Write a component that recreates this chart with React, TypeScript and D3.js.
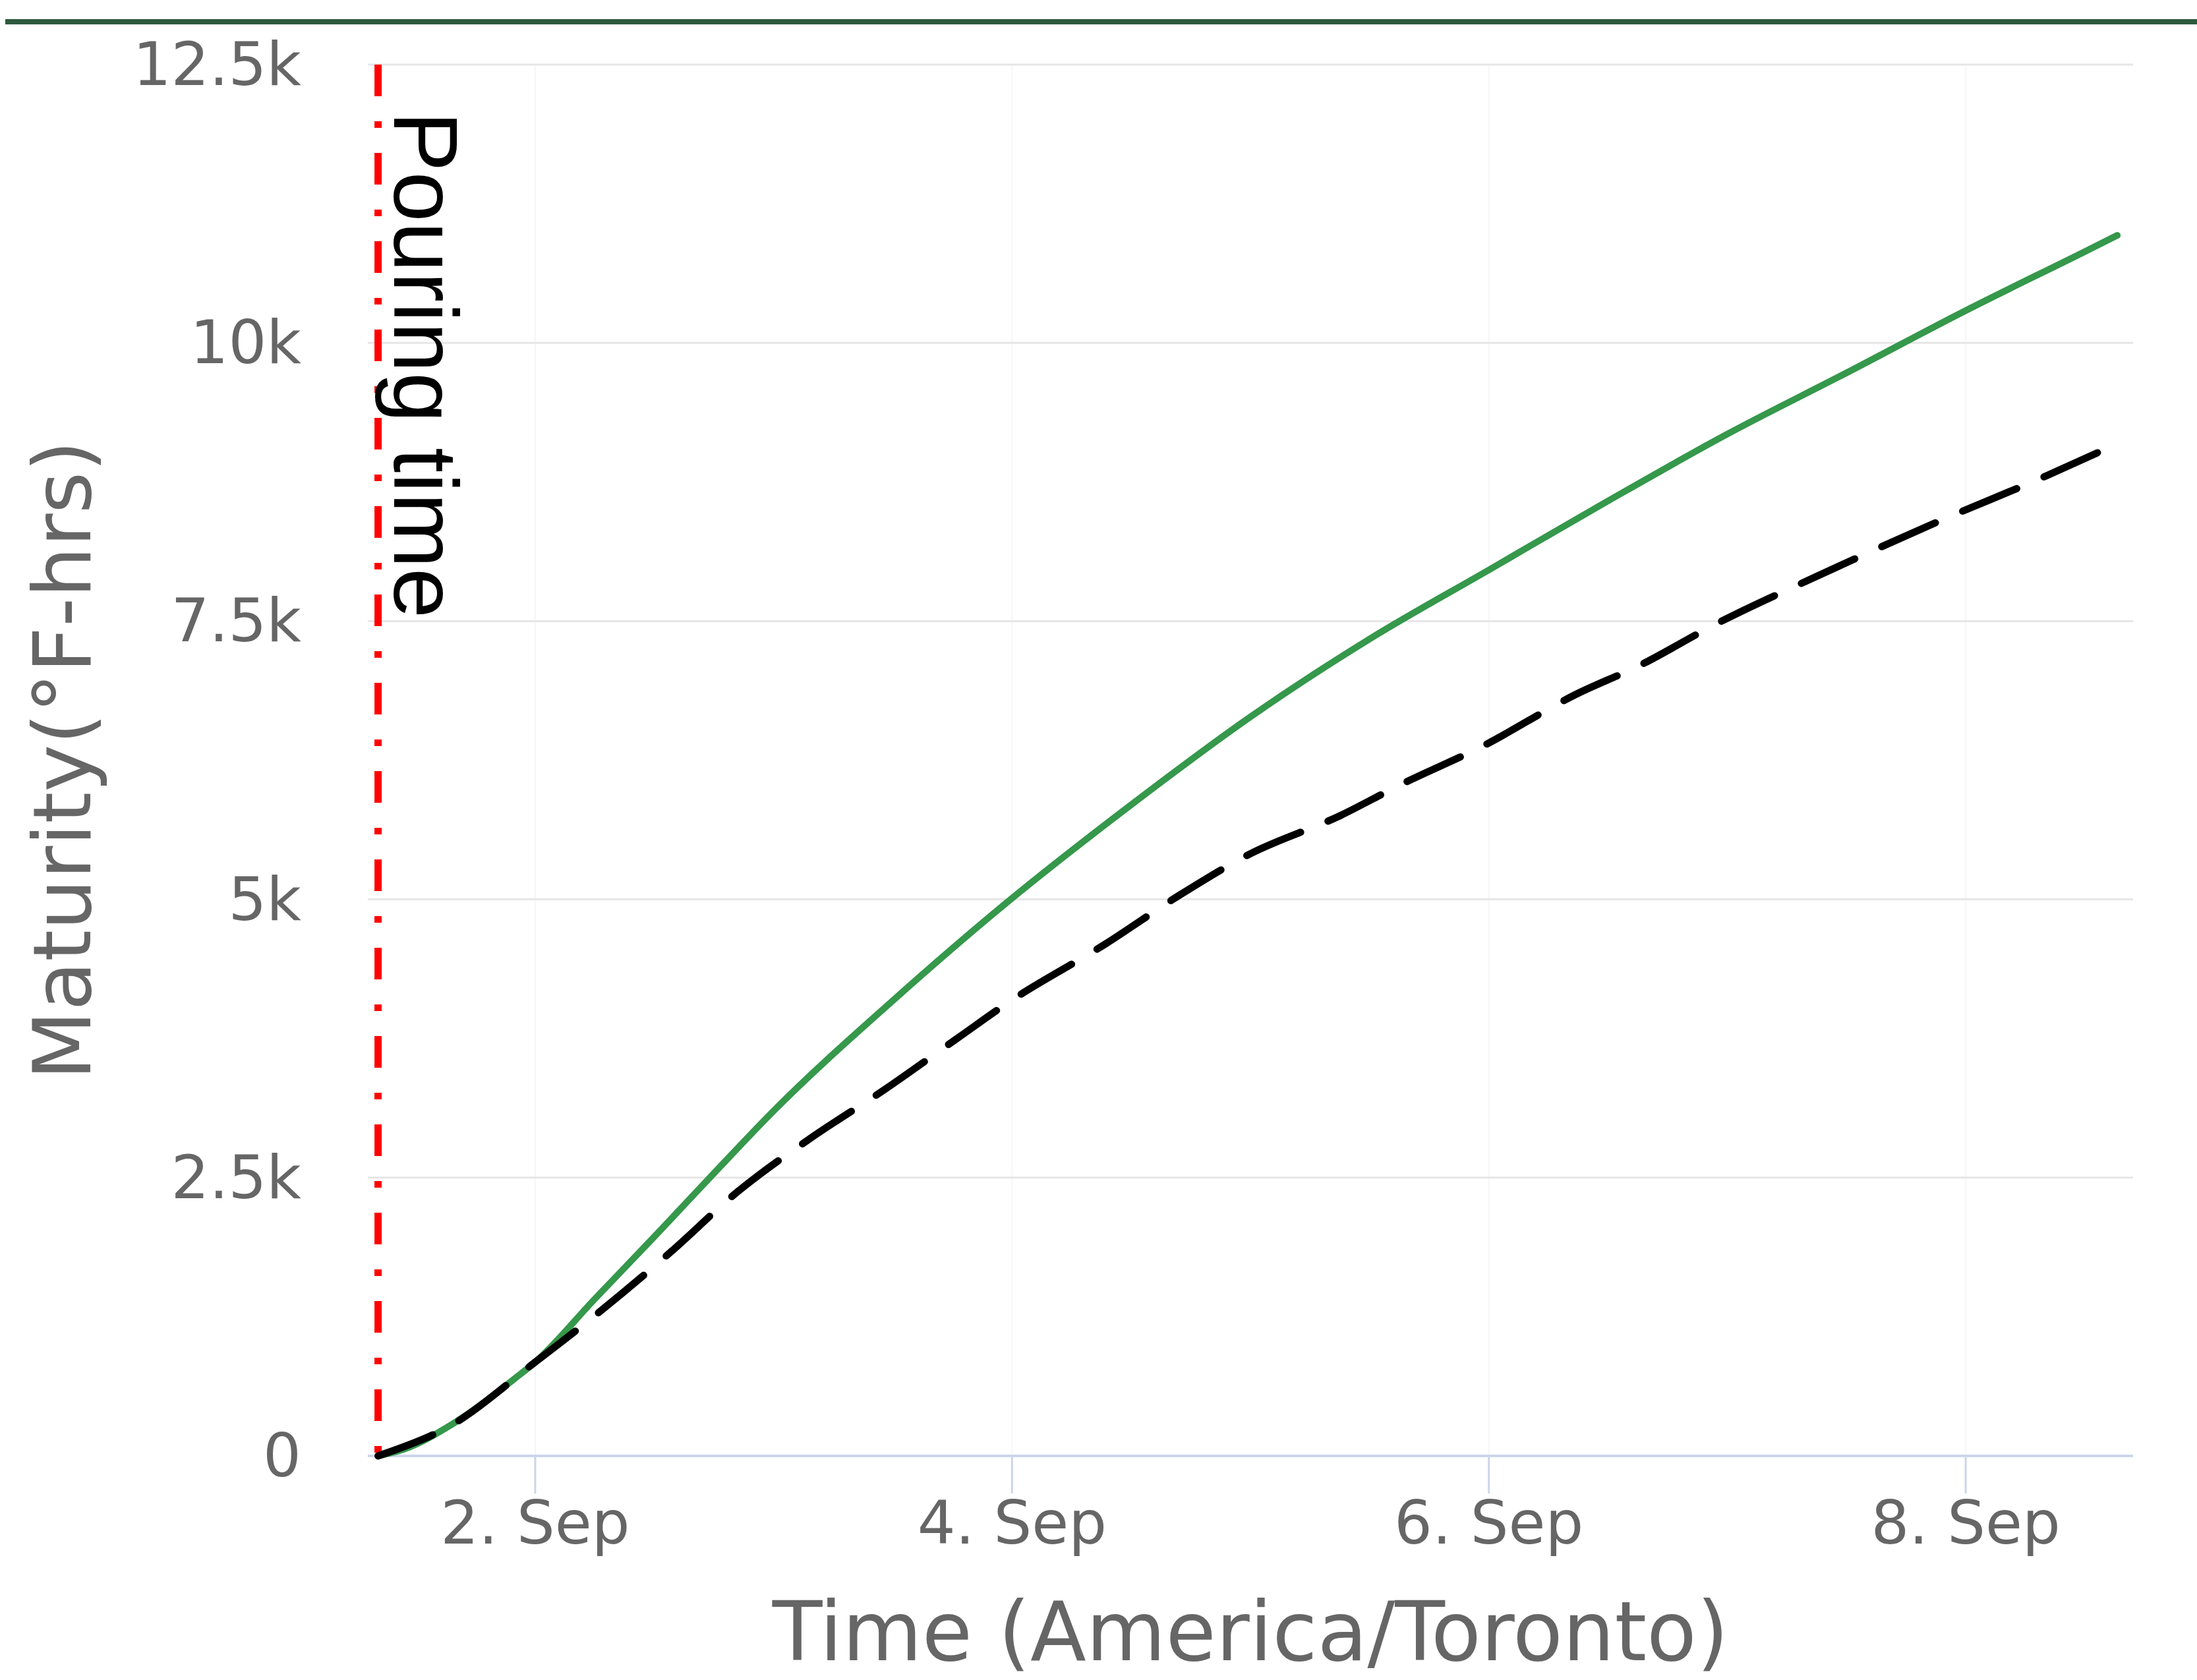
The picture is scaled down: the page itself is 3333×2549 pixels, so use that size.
import React from "react";
import * as d3 from "d3";

// ---- data ----
const greenTimes = [
  "2024-09-01T08:11", "2024-09-01T10:48", "2024-09-01T15:38", "2024-09-01T22:05",
  "2024-09-02T00:00", "2024-09-02T06:00", "2024-09-02T12:00", "2024-09-02T18:00",
  "2024-09-03T00:00", "2024-09-03T12:00", "2024-09-04T00:00", "2024-09-04T12:00",
  "2024-09-05T00:00", "2024-09-05T12:00", "2024-09-06T00:00", "2024-09-06T12:00",
  "2024-09-07T00:00", "2024-09-07T12:00", "2024-09-08T00:00", "2024-09-08T12:00",
  "2024-09-08T15:16",
];
const greenValues = [
  0, 60, 284, 705, 843, 1410, 1970, 2540, 3100, 4090, 5010, 5850, 6640, 7340, 7960,
  8580, 9180, 9730, 10290, 10820, 10966,
];

const blackTimes = [
  "2024-09-01T08:11", "2024-09-01T15:38", "2024-09-02T00:00", "2024-09-02T05:11",
  "2024-09-02T13:37", "2024-09-02T20:23", "2024-09-03T03:37", "2024-09-03T11:11",
  "2024-09-03T18:26", "2024-09-03T23:56", "2024-09-04T09:26", "2024-09-04T16:59",
  "2024-09-04T23:46", "2024-09-05T09:07", "2024-09-05T15:03", "2024-09-05T23:31",
  "2024-09-06T08:50", "2024-09-06T15:09", "2024-09-06T22:58", "2024-09-07T09:04",
  "2024-09-07T21:17", "2024-09-08T08:07", "2024-09-08T15:16",
];
const blackValues = [
  0, 280, 843, 1202, 1830, 2374, 2848, 3292, 3748, 4092, 4601, 5045, 5400, 5756, 6028,
  6383, 6845, 7100, 7479, 7905, 8396, 8805, 9095,
];

const pouringTime = "2024-09-01T08:11";
const pouringLabel = "Pouring time";

const xDomain = ["2024-09-01T07:09", "2024-09-08T16:51"];
const xTickDates = ["2024-09-02", "2024-09-04", "2024-09-06", "2024-09-08"];
const yTicks = [0, 2500, 5000, 7500, 10000, 12500];
const yTickLabels = ["0", "2.5k", "5k", "7.5k", "10k", "12.5k"];
const yMax = 12500;

const xTitle = "Time (America/Toronto)";
const yTitle = "Maturity(°F-hrs)";

// ---- layout ----
const W = 3333;
const H = 2549;
const plotLeft = 558;
const plotRight = 3236;
const plotTop = 98;
const plotBottom = 2209;

const parse = (s: string) => new Date(s);

export default function App() {
  const x = d3
    .scaleTime()
    .domain([parse(xDomain[0]), parse(xDomain[1])])
    .range([plotLeft, plotRight]);
  const y = d3.scaleLinear().domain([0, yMax]).range([plotBottom, plotTop]);

  const line = d3
    .line<[Date, number]>()
    .x((d) => x(d[0]))
    .y((d) => y(d[1]))
    .curve(d3.curveMonotoneX);

  const greenData: [Date, number][] = greenTimes.map((t, i) => [parse(t), greenValues[i]]);
  const blackData: [Date, number][] = blackTimes.map((t, i) => [parse(t), blackValues[i]]);

  const fmt = d3.timeFormat("%-d. %b");
  const labelFont = "'DejaVu Sans', Verdana, sans-serif";
  const px = x(parse(pouringTime));

  return (
    <svg
      width={W}
      height={H}
      style={{ position: "absolute", left: 0, top: 0, background: "#fff" }}
    >
      <rect x={0} y={0} width={W} height={H} fill="#ffffff" />
      <rect x={8} y={29} width={W - 8} height={8} fill="#2d5a3e" />

      {/* vertical faint gridlines */}
      {xTickDates.map((t) => (
        <line
          key={"vg" + t}
          x1={x(parse(t))}
          x2={x(parse(t))}
          y1={plotTop}
          y2={plotBottom}
          stroke="#f6f6f6"
          strokeWidth={2}
        />
      ))}

      {/* horizontal gridlines */}
      {yTicks.map((v) =>
        v === 0 ? null : (
          <line
            key={"hg" + v}
            x1={plotLeft}
            x2={plotRight}
            y1={y(v)}
            y2={y(v)}
            stroke="#e6e6e6"
            strokeWidth={3}
          />
        )
      )}

      {/* x axis line */}
      <line
        x1={plotLeft}
        x2={plotRight}
        y1={plotBottom}
        y2={plotBottom}
        stroke="#ccd6eb"
        strokeWidth={4}
      />
      {xTickDates.map((t) => (
        <g key={"xt" + t}>
          <line
            x1={x(parse(t))}
            x2={x(parse(t))}
            y1={plotBottom}
            y2={plotBottom + 57}
            stroke="#ccd6eb"
            strokeWidth={3}
          />
          <text
            x={x(parse(t))}
            y={2342}
            textAnchor="middle"
            fontFamily={labelFont}
            fontSize={91}
            fill="#666666"
          >
            {fmt(parse(t))}
          </text>
        </g>
      ))}

      {/* y tick labels */}
      {yTicks.map((v, i) => (
        <text
          key={"yl" + v}
          x={457}
          y={y(v) + 31}
          textAnchor="end"
          fontFamily={labelFont}
          fontSize={91}
          fill="#666666"
        >
          {yTickLabels[i]}
        </text>
      ))}

      {/* axis titles */}
      <text
        x={(plotLeft + plotRight) / 2}
        y={2519}
        textAnchor="middle"
        fontFamily={labelFont}
        fontSize={124}
        fill="#666666"
      >
        {xTitle}
      </text>
      <text
        transform={`translate(137, ${(plotTop + plotBottom) / 2}) rotate(-90)`}
        textAnchor="middle"
        fontFamily={labelFont}
        fontSize={122}
        fill="#666666"
      >
        {yTitle}
      </text>

      {/* pouring time plot line */}
      <line
        x1={px}
        x2={px}
        y1={plotTop}
        y2={plotBottom}
        stroke="#ff0000"
        strokeWidth={11}
        strokeDasharray="48,38,10,38"
      />
      <text
        transform={`translate(${px + 24}, 169) rotate(90)`}
        fontFamily="'Liberation Sans', Arial, sans-serif"
        fontSize={137}
        fill="#000000"
      >
        {pouringLabel}
      </text>

      {/* series */}
      <path
        d={line(greenData) || ""}
        fill="none"
        stroke="#35984b"
        strokeWidth={10}
        strokeLinecap="round"
        strokeLinejoin="round"
      />
      <path
        d={line(blackData) || ""}
        fill="none"
        stroke="#000000"
        strokeWidth={11}
        strokeDasharray="89,45"
        strokeLinecap="round"
        strokeLinejoin="round"
      />
    </svg>
  );
}
